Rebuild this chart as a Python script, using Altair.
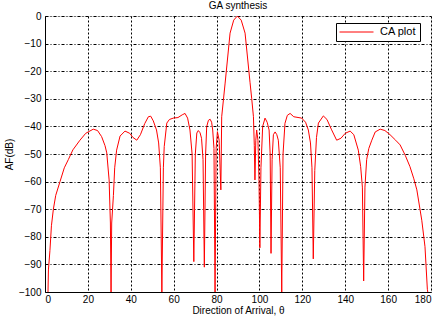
import altair as alt
import pandas as pd

deg = [1.4, 1.6, 2.3, 3.0, 3.9, 5, 7, 9, 10.9, 13, 16.3, 19, 22.5, 24.5, 26.4, 28, 28.8, 29.9, 30.5, 30.8,
       31.1, 31.9, 32.5, 33.4, 35, 37.3, 39.5, 41, 42.8, 44.5, 46.5, 48.2, 49.3, 50.5, 52, 53, 53.8, 54.5,
       55.2, 55.6, 56.8, 58, 59.8, 62, 64, 65.3, 66.5, 67.6, 68.6, 69.4, 70.1, 70.8, 71.5, 72.3, 73, 73.7,
       74.3, 74.9, 75.4, 76.2, 77, 77.7, 78.2, 78.8, 79.3, 79.8, 80.4, 81.2, 82.0, 82.4, 84, 86.3, 88, 89.7,
       91.5, 93.3, 95.6, 96.4, 97.2, 97.6, 97.9, 98.3, 98.7, 99.3, 99.8, 100.2, 100.7, 101.5, 102.6, 103.6,
       104.5, 105, 105.4, 105.9, 106.5, 107.3, 108.1, 108.8, 109.7, 110.4, 111, 111.9, 113, 114.3, 116,
       119.7, 121.5, 122.8, 123.8, 124.5, 125.1, 125.8, 126.6, 127.5, 129.8, 131.5, 133.5, 136, 138, 140,
       142.3, 144, 146.1, 147.2, 148, 148.6, 149.2, 150, 151, 152.4, 154, 156.3, 158.5, 160.9, 163.5,
       165.6, 168, 170.2, 172, 173.4, 175.7, 177.2, 178.3, 178.5]
af = [-100, -92, -85, -76, -70, -65, -60, -55, -52, -48.5, -45, -42.5, -41, -41.5, -43.7, -47, -49.6, -59.4, -75, -100,
      -75, -65, -55, -48.6, -43.5, -41.7, -42.5, -44, -45, -43, -39, -36.5, -36.3, -38, -41.3, -46, -55, -100,
      -55, -47.3, -38.8, -37.5, -37, -36.8, -35.8, -35.3, -37, -41.3, -50, -89, -50, -42.4, -41.5, -42.3, -44.3, -52,
      -91, -50, -40.1, -37.8, -37.4, -38.5, -41.3, -48, -100, -48, -41.9, -45, -63, -36.5, -24.3, -6.2, -1.5, 0,
      -1.5, -6.2, -24, -30, -36.5, -47, -59.4, -45, -41.3, -45, -60, -84, -55, -40, -37, -38.5,
      -41.3, -50, -86, -52, -43, -42, -43, -45, -55, -100, -50, -38.9, -36, -35.3, -36.5,
      -37, -38.5, -41.3, -46, -55, -88, -56, -44, -38.8, -36.2, -37.5, -41, -45, -44.3, -42.5,
      -41.7, -43, -48.6, -54.6, -62, -96, -62, -52, -48, -45, -42, -41, -41.5, -43, -45,
      -46.7, -50.5, -54.6, -59, -63, -74, -83.6, -99, -100]

x_ticks = [0, 20, 40, 60, 80, 100, 120, 140, 160, 180]
y_ticks = [0, -10, -20, -30, -40, -50, -60, -70, -80, -90, -100]
series = ["CA plot"] * len(deg)

df = pd.DataFrame({"deg": deg, "af": af, "series": series})

FONT = "Liberation Sans"

chart = alt.Chart(df).mark_line(color="#ff0000", strokeWidth=1, clip=True).encode(
    x=alt.X("deg:Q", scale=alt.Scale(domain=[0, 180], nice=False),
            axis=alt.Axis(values=x_ticks, title="Direction of Arrival, θ", grid=True,
                          gridDash=[2, 2], gridColor="#000000", gridOpacity=1, ticks=False,
                          domainColor="#000000", labelPadding=2, titlePadding=1,
                          titleFontWeight="normal", titleFontSize=10)),
    y=alt.Y("af:Q", scale=alt.Scale(domain=[-100, 0], nice=False),
            axis=alt.Axis(values=y_ticks, title="AF(dB)", grid=True,
                          gridDash=[3, 2, 1, 2], gridColor="#000000", gridOpacity=1, ticks=False,
                          domainColor="#000000", labelPadding=4, titlePadding=4,
                          titleFontWeight="normal", titleFontSize=10)),
    color=alt.Color("series:N", scale=alt.Scale(domain=["CA plot"], range=["#ff0000"]),
                    legend=alt.Legend(title=None, orient="none", legendX=291, legendY=7,
                                      symbolType="stroke", symbolSize=1156, symbolStrokeWidth=1,
                                      clipHeight=12,
                                      fillColor="#ffffff", strokeColor="#000000", padding=3,
                                      labelFontSize=11, labelFont=FONT, labelColor="#000000",
                                      labelOffset=6)),
    order=alt.Order("deg:Q"),
).properties(
    width=386, height=276,
    title=alt.TitleParams("GA synthesis", fontSize=10, fontWeight="normal", font=FONT,
                          color="#000000", offset=0),
    autosize=alt.AutoSizeParams(type="none"),
    padding={"left": 45, "top": 16, "right": 8, "bottom": 24},
).configure_view(
    stroke="#000000", strokeWidth=1
).configure_axis(
    labelFont=FONT, titleFont=FONT, labelFontSize=11,
    labelColor="#000000", titleColor="#000000"
).configure(background="#ffffff")

chart.save("out.html", embed_options={"renderer": "svg", "actions": False})
